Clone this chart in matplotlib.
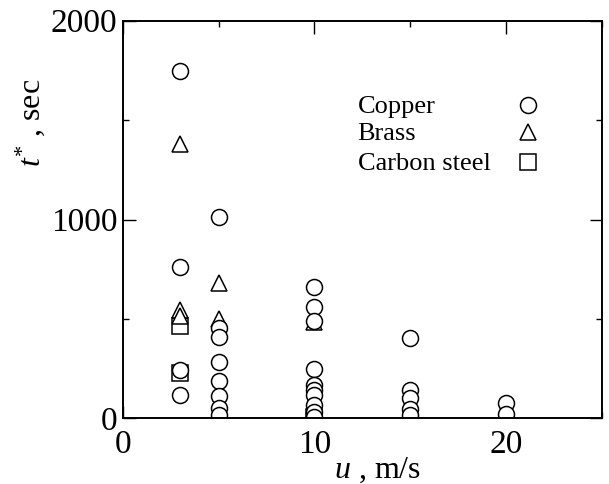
import numpy as np
import matplotlib
matplotlib.use("Agg")
import matplotlib.pyplot as plt
from matplotlib.ticker import MultipleLocator

plt.rcParams['font.family'] = ['Liberation Serif', 'DejaVu Serif']
plt.rcParams['mathtext.fontset'] = 'custom'
plt.rcParams['mathtext.rm'] = 'Liberation Serif'
plt.rcParams['mathtext.it'] = 'Liberation Serif:italic'

# breakthrough time t* (sec) against flow velocity u (m/s)
copper_u = [3, 3, 3, 3,
            5, 5, 5, 5, 5, 5, 5, 5,
            10, 10, 10, 10, 10, 10, 10, 10, 10, 10,
            15, 15, 15, 15, 15,
            20, 20]
copper_t = [1745, 762, 245, 115,
            1015, 452, 410, 285, 190, 110, 50, 15,
            662, 560, 492, 250, 168, 143, 117, 65, 33, 8,
            403, 143, 101, 48, 15,
            75, 22]

brass_u = [3, 3, 3, 5, 5, 10]
brass_t = [1380, 545, 515, 683, 500, 482]

steel_u = [3, 3, 10]
steel_t = [463, 226, 5]

legend_names = ['Copper', 'Brass', 'Carbon steel']

fig = plt.figure(figsize=(6.09, 4.84), dpi=100)
ax = fig.add_axes([0.202, 0.1357, 0.786, 0.8215])

mk = dict(linestyle='none', markerfacecolor='white', markeredgecolor='black',
          markeredgewidth=1.1, markersize=11.5)
ax.plot(steel_u, steel_t, marker='s', **mk)
ax.plot(brass_u, brass_t, marker='^', **mk)
ax.plot(copper_u, copper_t, marker='o', **mk)

ax.set_xlim(0, 25)
ax.set_ylim(0, 2000)
ax.xaxis.set_major_locator(MultipleLocator(10))
ax.xaxis.set_minor_locator(MultipleLocator(5))
ax.yaxis.set_major_locator(MultipleLocator(1000))
ax.yaxis.set_minor_locator(MultipleLocator(500))
ax.tick_params(which='both', direction='in', top=True, right=True,
               width=1.0, labelsize=24, pad=4)
ax.tick_params(axis='x', which='major', pad=8)
ax.tick_params(which='major', length=9)
ax.tick_params(which='minor', length=4.5)
for s in ax.spines.values():
    s.set_linewidth(1.4)

ax.set_xlabel(r'$u$ , m/s', fontsize=23)
ax.set_ylabel(r'$t^{*}$ , sec', fontsize=23)
ax.xaxis.set_label_coords(0.531, -0.093)
ax.yaxis.set_label_coords(-0.158, 0.744)

# legend: names on the left, symbols in a column to the right
keys = ['o', '^', 's']
key_y = [0.788, 0.721, 0.645]
for name, m, y in zip(legend_names, keys, key_y):
    ax.text(0.49, y - 0.006, name, transform=ax.transAxes, fontsize=19,
            ha='left', va='center')
    ax.plot([0.847], [y], marker=m, transform=ax.transAxes, clip_on=False, **mk)

fig.savefig('out.png', dpi=100)
